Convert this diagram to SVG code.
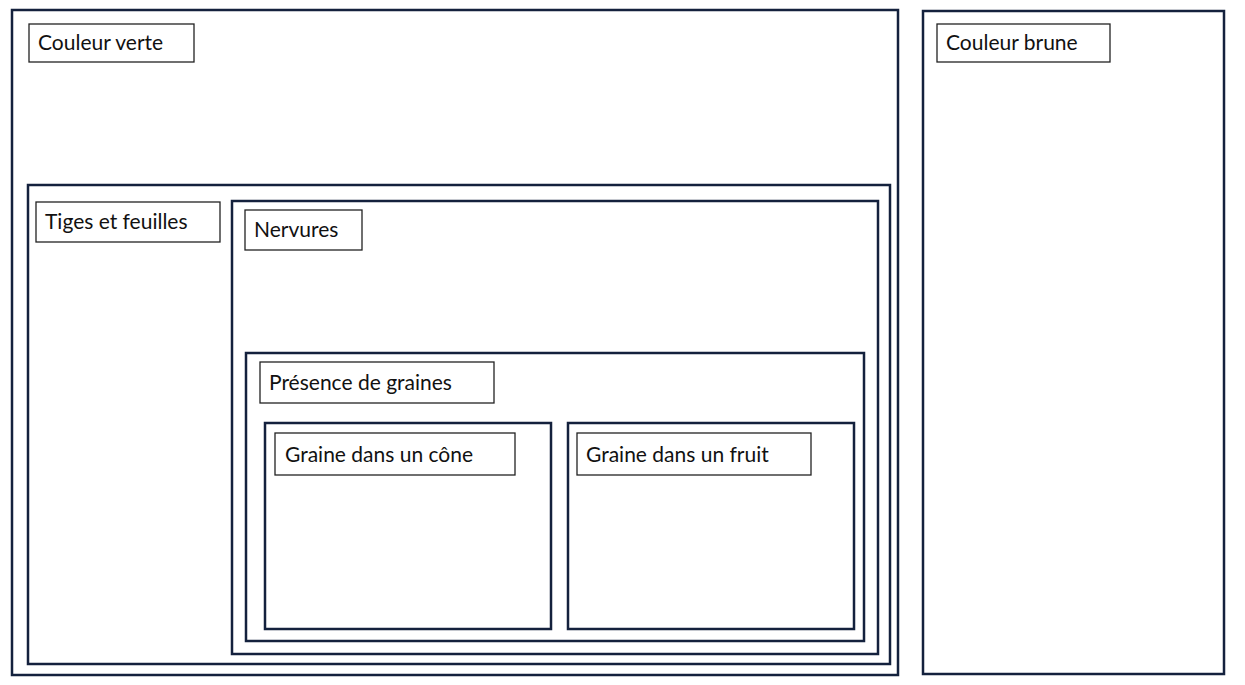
<svg xmlns="http://www.w3.org/2000/svg" width="1245" height="685" viewBox="0 0 1245 685">
<style>
.c{fill:none;stroke:#14213d;stroke-width:2.5}
.l{fill:#fff;stroke:#222;stroke-width:1.3}
text{font-family:Lato,"Liberation Sans",sans-serif;font-size:21px;fill:#111}
</style>
<rect width="1245" height="685" fill="#fff"/>
<g id="vert"><rect class="c" x="12" y="10" width="886" height="665"/><rect class="l" x="29" y="24" width="165" height="38"/><text x="38" y="50">Couleur verte</text></g>
<g id="brune"><rect class="c" x="923" y="11" width="301" height="663"/><rect class="l" x="937" y="24" width="173" height="38"/><text x="946" y="50">Couleur brune</text></g>
<g id="tiges"><rect class="c" x="28" y="185" width="862" height="479"/><rect class="l" x="36" y="202" width="184" height="40"/><text x="45" y="229">Tiges et feuilles</text></g>
<g id="nervures"><rect class="c" x="232" y="201" width="646" height="453"/><rect class="l" x="245" y="210" width="117" height="40"/><text x="254" y="237">Nervures</text></g>
<g id="graines"><rect class="c" x="246" y="353" width="618" height="288"/><rect class="l" x="260" y="362" width="234" height="41"/><text x="269" y="390">Présence de graines</text></g>
<g id="cone"><rect class="c" x="265" y="423" width="286" height="206"/><rect class="l" x="275" y="433" width="240" height="42"/><text x="285" y="462">Graine dans un cône</text></g>
<g id="fruit"><rect class="c" x="568" y="423" width="286" height="206"/><rect class="l" x="577" y="433" width="234" height="42"/><text x="586" y="462">Graine dans un fruit</text></g>
<g id="connectors"/>
</svg>
